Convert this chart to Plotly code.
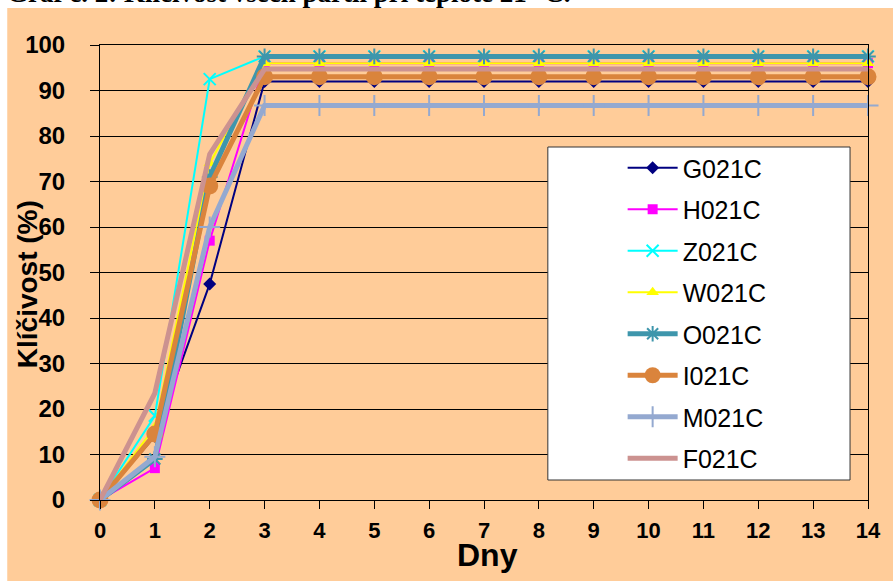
import plotly.graph_objects as go

days = [0, 1, 2, 3, 4, 5, 6, 7, 8, 9, 10, 11, 12, 13, 14]
G021C = [0, 14, 47.5, 92, 92, 92, 92, 92, 92, 92, 92, 92, 92, 92, 92]
H021C = [0, 7, 57, 96, 96, 96, 96, 96, 96, 96, 96, 96, 96, 96, 96]
Z021C = [0, 18.5, 92.5, 97.5, 97.5, 97.5, 97.5, 97.5, 97.5, 97.5, 97.5, 97.5, 97.5, 97.5, 97.5]
W021C = [0, 16, 74, 96, 96, 96, 96, 96, 96, 96, 96, 96, 96, 96, 96]
O021C = [0, 9, 71, 97.5, 97.5, 97.5, 97.5, 97.5, 97.5, 97.5, 97.5, 97.5, 97.5, 97.5, 97.5]
I021C = [0, 14.5, 69, 93, 93, 93, 93, 93, 93, 93, 93, 93, 93, 93, 93]
M021C = [0, 9.5, 60, 86.7, 86.7, 86.7, 86.7, 86.7, 86.7, 86.7, 86.7, 86.7, 86.7, 86.7, 86.7]
F021C = [0, 23.5, 76, 94.7, 94.7, 94.7, 94.7, 94.7, 94.7, 94.7, 94.7, 94.7, 94.7, 94.7, 94.7]

series = [
    ("G021C", G021C, "#000080", 2, dict(symbol="diamond", size=10, color="#000080")),
    ("H021C", H021C, "#FF00FF", 2, dict(symbol="square", size=10, color="#FF00FF")),
    ("Z021C", Z021C, "#00FFFF", 2, dict(symbol="x-thin", size=12, line=dict(color="#00FFFF", width=2))),
    ("W021C", W021C, "#FFFF00", 2, dict(symbol="triangle-up", size=11, color="#FFFF00")),
    ("O021C", O021C, "#3E96AC", 5, dict(symbol="asterisk", size=13, line=dict(color="#3E96AC", width=2))),
    ("I021C", I021C, "#DA843C", 5, dict(symbol="circle", size=17, color="#DA843C")),
    ("M021C", M021C, "#94A9D0", 5, dict(symbol="cross-thin", size=15, line=dict(color="#94A9D0", width=2))),
    ("F021C", F021C, "#CC9290", 5, None),
]

fig = go.Figure()
for name, vals, col, w, mk in series:
    fig.add_trace(go.Scatter(
        x=days, y=vals, name=name, legendgroup=name,
        mode="lines+markers" if mk else "lines",
        line=dict(color=col, width=w),
        marker=mk if mk else None,
        cliponaxis=False,
    ))

W, H = 893, 581
L, R, T, B = 100, 23, 45, 81
pw, ph = W - L - R, H - T - B

def px(xp):
    return (xp - L) / pw

def py(yp):
    return (H - B - yp) / ph

shapes = [
    dict(type="rect", xref="paper", yref="paper", x0=px(7), x1=px(900), y0=py(590), y1=py(8),
         fillcolor="#FFCC99", line=dict(width=0), layer="below"),
    dict(type="rect", xref="paper", yref="paper", x0=px(549), x1=px(852), y0=py(480), y1=py(147),
         fillcolor="white", line=dict(color="#333333", width=1), layer="above"),
]

fig.update_layout(
    width=W, height=H,
    margin=dict(l=L, r=R, t=T, b=B),
    paper_bgcolor="white",
    plot_bgcolor="rgba(0,0,0,0)",
    shapes=shapes,
    showlegend=True,
    legend=dict(
        x=px(624), y=py(145), xanchor="left", yanchor="top",
        bgcolor="rgba(0,0,0,0)", borderwidth=0,
        font=dict(family="Liberation Sans, Arial", size=25, color="black"),
        traceorder="grouped", tracegroupgap=6, itemwidth=50,
    ),
    xaxis=dict(
        range=[0, 14], dtick=1, tick0=0, showgrid=False, zeroline=False,
        showline=True, linecolor="black", linewidth=1, mirror=True,
        ticks="outside", ticklen=8, tickcolor="black",
        tickfont=dict(family="Liberation Sans Narrow, Arial Narrow, Liberation Sans, Arial", size=22, color="black", weight="bold"),
        ticklabelstandoff=3,
    ),
    yaxis=dict(
        range=[0, 100], dtick=10, tick0=0, showgrid=True, gridcolor="black", gridwidth=1,
        zeroline=False, showline=True, linecolor="black", linewidth=1, mirror=True,
        ticks="outside", ticklen=9, tickcolor="black",
        tickfont=dict(family="Liberation Sans, Arial", size=24, color="black", weight="bold"),
        ticklabelstandoff=20,
    ),
    annotations=[
        dict(text="Klíčivost (%)", xref="paper", yref="paper", x=px(27), y=py(284),
             textangle=-90, showarrow=False, xanchor="center", yanchor="middle",
             font=dict(family="Liberation Sans, Arial", size=28, color="black", weight="bold")),
        dict(text="Dny", xref="paper", yref="paper", x=px(489), y=py(555),
             showarrow=False, xanchor="center", yanchor="middle",
             font=dict(family="Liberation Sans Narrow, Arial Narrow, Liberation Sans, Arial", size=32, color="black", weight="bold")),
        dict(text="Graf č. 2: Klíčivost všech partií při teplotě 21 °C.", xref="paper", yref="paper",
             x=px(5), y=py(10), xanchor="left", yanchor="bottom", showarrow=False,
             font=dict(family="Liberation Serif, Times New Roman", size=27, color="black", weight="bold")),
    ],
)

fig.write_html("out.html")
